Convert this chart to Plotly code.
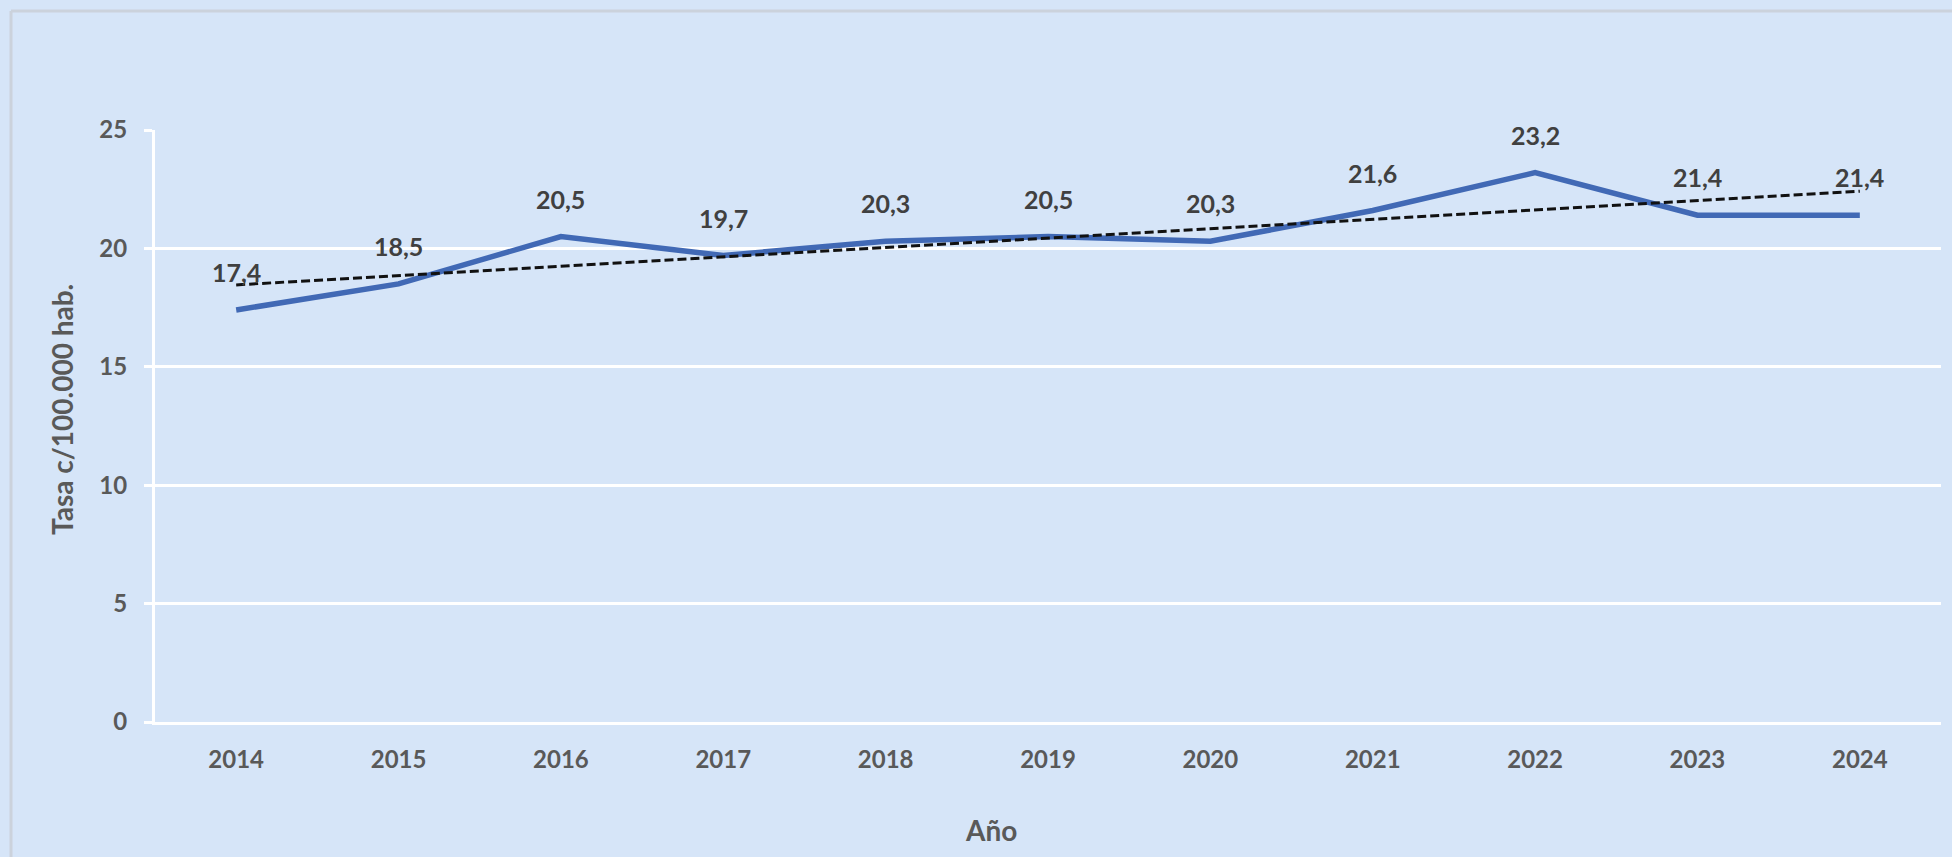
import numpy as np
import plotly.graph_objects as go

# Annual rate per 100,000 inhabitants
years = ["2014", "2015", "2016", "2017", "2018", "2019", "2020", "2021", "2022", "2023", "2024"]
rates = [17.4, 18.5, 20.5, 19.7, 20.3, 20.5, 20.3, 21.6, 23.2, 21.4, 21.4]
y_ticks = [0, 5, 10, 15, 20, 25]

BG = "#D6E5F8"
FONT = "Lato"
TICK_COLOR = "#595959"
LABEL_COLOR = "#404040"

W, H = 1952, 857
ML, MR, MT, MB = 155, 11, 130, 135
PW, PH = W - ML - MR, H - MT - MB


def px_to_paper(xp, yp):
    return (xp - ML) / PW, (H - MB - yp) / PH


# Linear trend over the series (least squares)
idx = np.arange(len(rates))
slope, intercept = np.polyfit(idx, rates, 1)
trend = slope * idx + intercept

fig = go.Figure()

fig.add_trace(go.Scatter(
    x=years, y=rates, mode="lines",
    line=dict(color="#4169B5", width=5.5),
    hoverinfo="skip", showlegend=False,
))
fig.add_trace(go.Scatter(
    x=years, y=trend, mode="lines",
    line=dict(color="#111111", width=3, dash="9px,4px"),
    hoverinfo="skip", showlegend=False,
))

# Value labels above each point (category index positions)
for i, v in enumerate(rates):
    fig.add_annotation(
        x=i, y=v, xref="x", yref="y",
        text=f"{v:.1f}".replace(".", ","),
        showarrow=False, yshift=38,
        font=dict(family=FONT, size=25, color=LABEL_COLOR, weight="bold"),
    )

# Axis titles
title_font = dict(family=FONT, size=28, color=TICK_COLOR, weight="bold")
ax_, ay_ = px_to_paper(991, 830)
fig.add_annotation(x=ax_, y=ay_, xref="paper", yref="paper", text="Año",
                   showarrow=False, xanchor="center", yanchor="middle", font=title_font)
tx_, ty_ = px_to_paper(62, 410)
fig.add_annotation(x=tx_, y=ty_, xref="paper", yref="paper", text="Tasa c/100.000 hab.",
                   textangle=-90, showarrow=False, xanchor="center", yanchor="middle",
                   font=title_font)

# Outer chart frame (top and left edges)
fx, fy = px_to_paper(11, 11)
fig.add_shape(type="line", xref="paper", yref="paper",
              x0=fx, x1=1.2, y0=fy, y1=fy,
              line=dict(color="#CBD2DC", width=3))
fig.add_shape(type="line", xref="paper", yref="paper",
              x0=fx, x1=fx, y0=fy, y1=-0.4,
              line=dict(color="#CBD2DC", width=3))

fig.update_layout(
    width=W, height=H,
    margin=dict(l=ML, r=MR, t=MT, b=MB),
    paper_bgcolor=BG, plot_bgcolor=BG,
    font=dict(family=FONT, color=TICK_COLOR),
    xaxis=dict(
        type="category", range=[-0.5, 10.5],
        showgrid=False, showline=True, linecolor="white", linewidth=3,
        ticks="", tickfont=dict(family=FONT, size=24, color=TICK_COLOR, weight="bold"),
        ticklabelstandoff=14,
    ),
    yaxis=dict(
        range=[0, 25], tickvals=y_ticks,
        showgrid=True, gridcolor="white", gridwidth=3,
        showline=True, linecolor="white", linewidth=3,
        zeroline=False,
        ticks="outside", ticklen=8, tickcolor="white", tickwidth=3,
        tickfont=dict(family=FONT, size=24, color=TICK_COLOR, weight="bold"),
        ticklabelstandoff=12,
    ),
)

fig.write_html("out.html")
